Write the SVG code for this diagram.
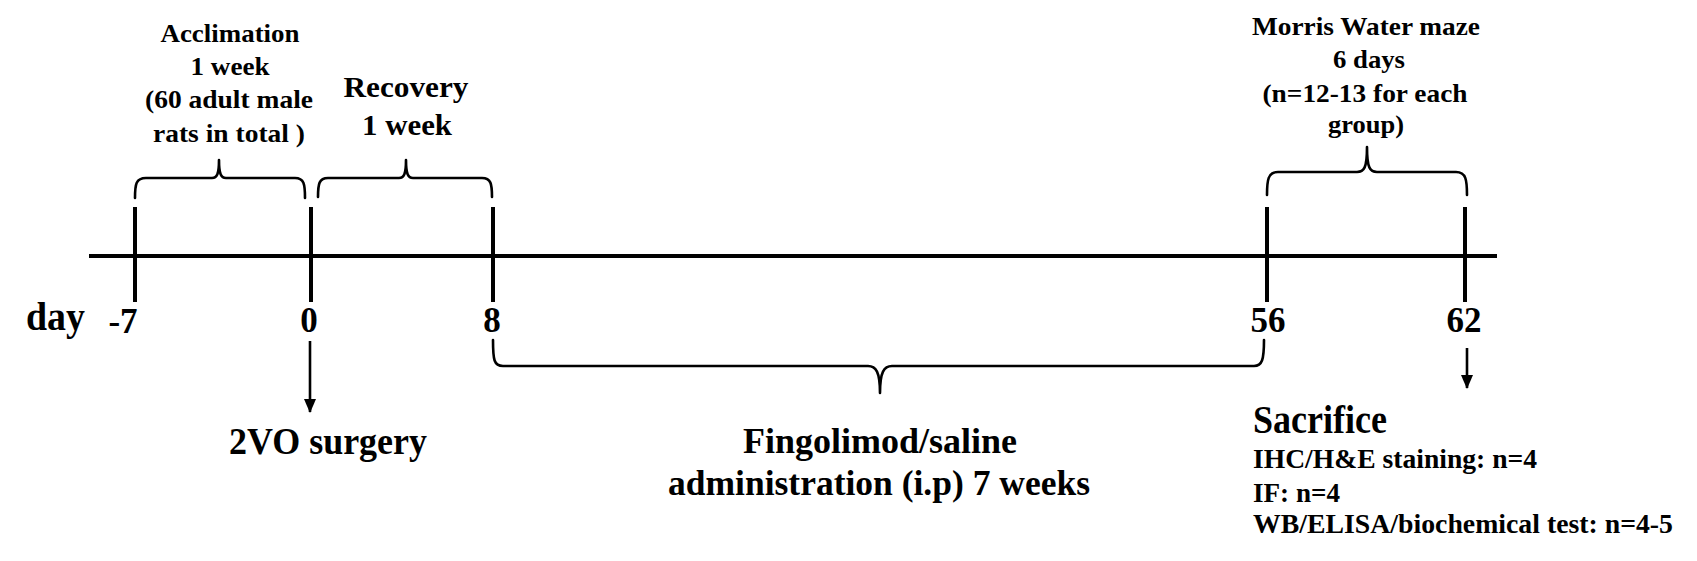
<svg xmlns="http://www.w3.org/2000/svg" width="1697" height="561" viewBox="0 0 1697 561">
<style>
.t{font-family:"Liberation Serif","Times New Roman",serif;font-weight:bold;fill:#000}
.m{text-anchor:middle}
.ax{stroke:#000;stroke-width:4;fill:none}
.br{stroke:#000;stroke-width:2.6;fill:none;stroke-linecap:round;stroke-linejoin:round}
.ar{stroke:#000;stroke-width:2.6;fill:none}
</style>
<defs>
<marker id="ah" viewBox="0 0 14 12" refX="13" refY="6" markerWidth="14" markerHeight="12" markerUnits="userSpaceOnUse" orient="auto">
<path d="M0,0 L14,6 L0,12 Z" fill="#000"/>
</marker>
</defs>
<rect width="1697" height="561" fill="#fff"/>

<g id="timeline">
<line class="ax" x1="89" y1="256" x2="1497" y2="256"/>
<line class="ax" x1="135" y1="207" x2="135" y2="302"/>
<line class="ax" x1="311" y1="207" x2="311" y2="302"/>
<line class="ax" x1="493" y1="207" x2="493" y2="302"/>
<line class="ax" x1="1267" y1="207" x2="1267" y2="302"/>
<line class="ax" x1="1465" y1="207" x2="1465" y2="302"/>
</g>

<g id="day-labels">
<text class="t" x="26" y="330" font-size="39" textLength="59" lengthAdjust="spacingAndGlyphs">day</text>
<text class="t m" x="123" y="333" font-size="35">-7</text>
<text class="t m" x="309" y="332" font-size="35">0</text>
<text class="t m" x="492" y="332" font-size="35">8</text>
<text class="t m" x="1268" y="332" font-size="35">56</text>
<text class="t m" x="1464" y="332" font-size="35">62</text>
</g>

<g id="acclimation">
<text class="t m" x="230" y="42" font-size="26" textLength="139" lengthAdjust="spacingAndGlyphs">Acclimation</text>
<text class="t m" x="230" y="75" font-size="26" textLength="79" lengthAdjust="spacingAndGlyphs">1 week</text>
<text class="t m" x="229" y="108" font-size="26" textLength="168" lengthAdjust="spacingAndGlyphs">(60 adult male</text>
<text class="t m" x="229" y="142" font-size="26" textLength="152" lengthAdjust="spacingAndGlyphs">rats in total )</text>
</g>

<g id="recovery">
<text class="t m" x="406" y="97" font-size="30" textLength="125" lengthAdjust="spacingAndGlyphs">Recovery</text>
<text class="t m" x="407" y="135" font-size="30" textLength="90" lengthAdjust="spacingAndGlyphs">1 week</text>
</g>

<g id="morris">
<text class="t m" x="1366" y="35" font-size="26" textLength="228" lengthAdjust="spacingAndGlyphs">Morris Water maze</text>
<text class="t m" x="1369" y="68" font-size="26" textLength="72" lengthAdjust="spacingAndGlyphs">6 days</text>
<text class="t m" x="1365" y="102" font-size="26" textLength="205" lengthAdjust="spacingAndGlyphs">(n=12-13 for each</text>
<text class="t m" x="1366" y="133" font-size="26" textLength="76" lengthAdjust="spacingAndGlyphs">group)</text>
</g>

<g id="surgery">
<text class="t m" x="328" y="454" font-size="38" textLength="198" lengthAdjust="spacingAndGlyphs">2VO surgery</text>
</g>

<g id="fingolimod">
<text class="t m" x="880" y="453" font-size="35" textLength="274" lengthAdjust="spacingAndGlyphs">Fingolimod/saline</text>
<text class="t m" x="879" y="495" font-size="35" textLength="422" lengthAdjust="spacingAndGlyphs">administration (i.p) 7 weeks</text>
</g>

<g id="sacrifice">
<text class="t" x="1253" y="433" font-size="40" textLength="134" lengthAdjust="spacingAndGlyphs">Sacrifice</text>
<text class="t" x="1253" y="468" font-size="28" textLength="284" lengthAdjust="spacingAndGlyphs">IHC/H&amp;E staining: n=4</text>
<text class="t" x="1253" y="502" font-size="28" textLength="87" lengthAdjust="spacingAndGlyphs">IF: n=4</text>
<text class="t" x="1253" y="533" font-size="28" textLength="420" lengthAdjust="spacingAndGlyphs">WB/ELISA/biochemical test: n=4-5</text>
</g>

<g id="connectors">
<path class="br" d="M135,198 C135,184 136,178 146,178 L212,178 C217,178 219,174 219,160 C219,174 221,178 226,178 L295,178 C304,178 305,184 305,198"/>
<path class="br" d="M318,197 C318,184 319,178 328,178 L399,178 C404,178 406,174 406,160 C406,174 408,178 413,178 L482,178 C491,178 492,184 492,197"/>
<path class="br" d="M1267,195 C1267,180 1268,172 1278,172 L1357,172 C1364,172 1367,168 1367,147 C1367,168 1370,172 1377,172 L1456,172 C1466,172 1467,180 1467,195"/>
<path class="br" d="M493,340 C493,360 494,366 503,366 L868,366 C876,366 880,372 880,393 C880,372 884,366 892,366 L1254,366 C1262,366 1264,360 1264,340"/>
<line class="ar" x1="310" y1="341" x2="310" y2="412" marker-end="url(#ah)"/>
<line class="ar" x1="1467" y1="348" x2="1467" y2="388" marker-end="url(#ah)"/>
</g>
</svg>
